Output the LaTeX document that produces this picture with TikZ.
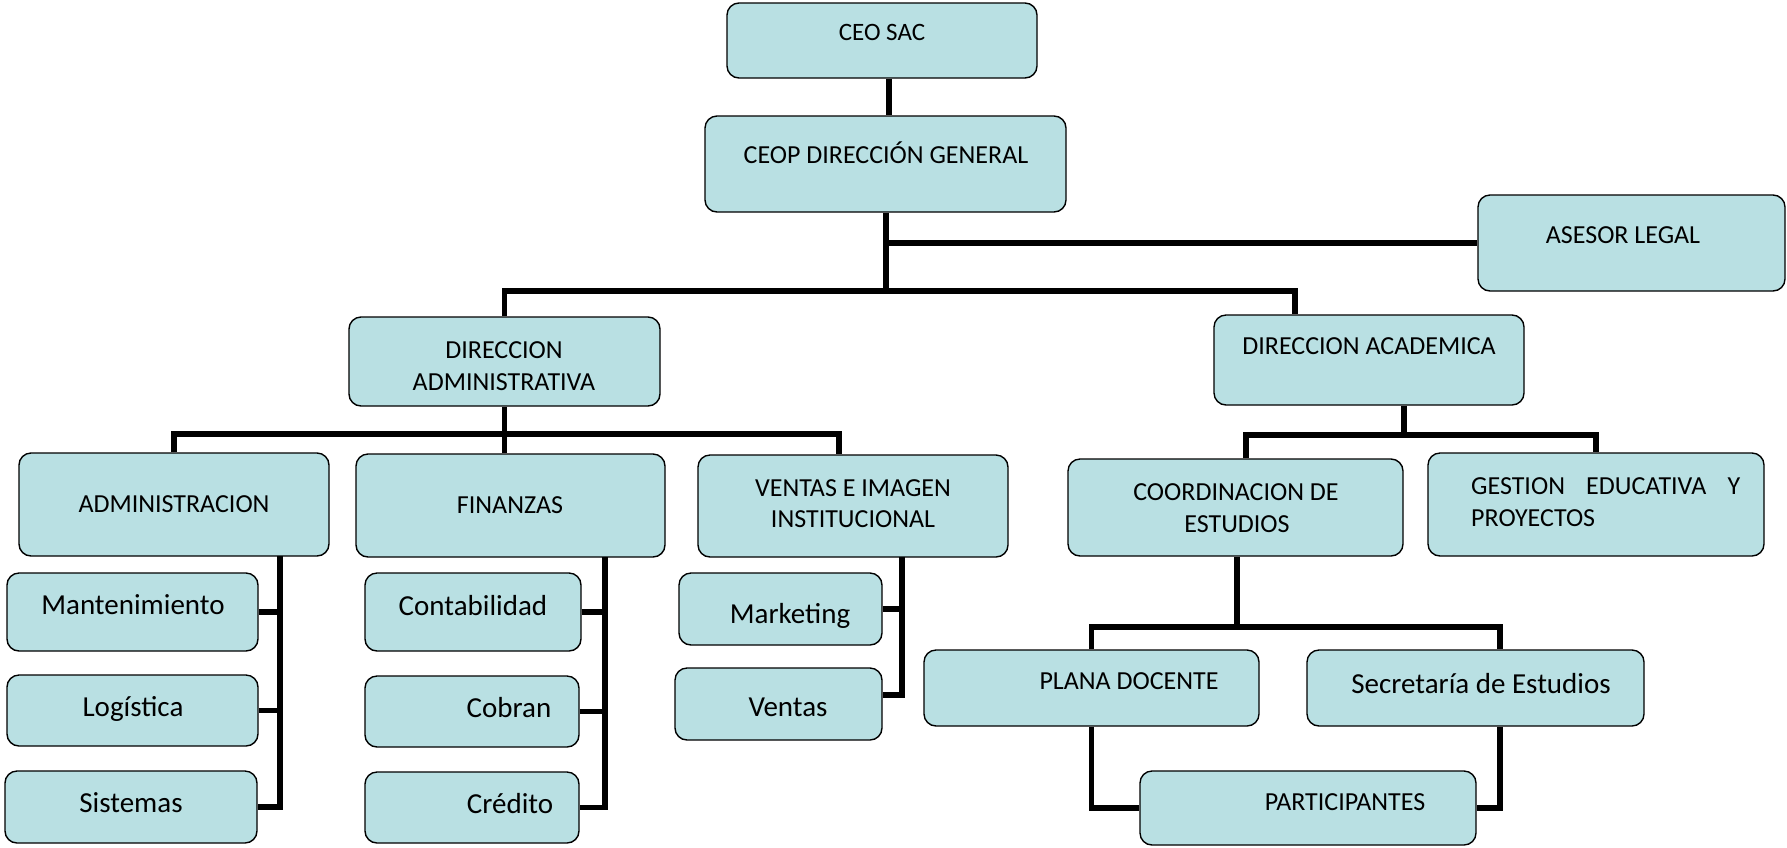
\documentclass[tikz,border=0pt]{standalone}
\usepackage{fontspec}
\setmainfont{Carlito}
\definecolor{boxfill}{RGB}{185,224,227}
\begin{document}
\begin{tikzpicture}[x=1pt,y=-1pt,
  unit/.style={draw=black,line width=1.4pt,fill=boxfill,rounded corners=12pt,inner sep=0pt},
  caps/.style={anchor=base,inner sep=0pt,font=\fontsize{26}{31}\selectfont},
  words/.style={anchor=base,inner sep=0pt,font=\fontsize{29}{35}\selectfont},
  link/.style={line width=5.7pt,line join=miter}]
\useasboundingbox (0,0) rectangle (1787,847);
% box from its corners: name, x1, y1, x2, y2
\newcommand\orgbox[5]{\node[unit,minimum width={(#4-#2)*1pt},minimum height={(#5-#3)*1pt}] (#1) at ({(#2+#4)/2},{(#3+#5)/2}) {};}

% ---- boxes ----
\orgbox{ceo}{727}{3}{1037}{78}
\orgbox{ceop}{705}{116}{1066}{212}
\orgbox{asesor}{1478}{195}{1785}{291}
\orgbox{dadm}{349}{317}{660}{406}
\orgbox{dacad}{1214}{315}{1524}{405}
\orgbox{admin}{19}{453}{329}{556}
\orgbox{finan}{356}{454}{665}{557}
\orgbox{ventas}{698}{455}{1008}{557}
\orgbox{mant}{7}{573}{258}{651}
\orgbox{logis}{7}{675}{258}{746}
\orgbox{sist}{5}{771}{257}{843}
\orgbox{conta}{365}{573}{581}{651}
\orgbox{cobran}{365}{676}{579}{747}
\orgbox{credito}{365}{772}{579}{843}
\orgbox{mkt}{679}{573}{882}{645}
\orgbox{vtas}{675}{668}{882}{740}
\orgbox{coord}{1068}{459}{1403}{556}
\orgbox{gestion}{1428}{453}{1764}{556}
\orgbox{plana}{924}{650}{1259}{726}
\orgbox{secre}{1307}{650}{1644}{726}
\orgbox{partic}{1140}{771}{1476}{845}

% ---- labels ----
\node[caps,font=\fontsize{25}{30}\selectfont] (ceo-t) at (882,40) {CEO SAC};
\node[caps] (ceop-t) at (886,163) {CEOP DIRECCIÓN GENERAL};
\node[caps] (asesor-t) at (1623,243) {ASESOR LEGAL};
\node[caps] (dadm-t1) at (504,358) {DIRECCION};
\node[caps] (dadm-t2) at (504,390) {ADMINISTRATIVA};
\node[caps] (dacad-t) at (1369,354) {DIRECCION ACADEMICA};
\node[caps] (admin-t) at (174,512) {ADMINISTRACION};
\node[caps] (finan-t) at (510,513) {FINANZAS};
\node[caps] (ventas-t1) at (853,496) {VENTAS E IMAGEN};
\node[caps] (ventas-t2) at (853,527) {INSTITUCIONAL};
\node[words] (mant-t) at (133,614) {Mantenimiento};
\node[words] (logis-t) at (133,716) {Logística};
\node[words] (sist-t) at (131,812) {Sistemas};
\node[words] (conta-t) at (473,615) {Contabilidad};
\node[words] (cobran-t) at (509,717) {Cobran};
\node[words] (credito-t) at (510,813) {Crédito};
\node[words] (mkt-t) at (790,623) {Marketing};
\node[words] (vtas-t) at (788,716) {Ventas};
\node[caps] (coord-t1) at (1236,500) {COORDINACION DE};
\node[caps] (coord-t2) at (1237,532) {ESTUDIOS};
\node[caps,anchor=base west] (gestion-t1) at (1471,494) {\makebox[269pt][s]{GESTION EDUCATIVA Y}};
\node[caps,anchor=base west] (gestion-t2) at (1471,526) {PROYECTOS};
\node[caps] (plana-t) at (1129,689) {PLANA DOCENTE};
\node[words] (secre-t) at (1481,693) {Secretaría de Estudios};
\node[caps] (partic-t) at (1345,810) {PARTICIPANTES};

% ---- connectors ----
\coordinate (hub) at (886,291);
\coordinate (legal) at (886,243);
\draw[link] ([xshift=7pt]ceo.south) -- ([xshift=3.5pt]ceop.north);
\draw[link] ([xshift=0.5pt]ceop.south) -- (hub);
\draw[link] (legal) -- (legal -| asesor.west);
\draw[link] (dadm.north) |- (hub) -| ([xshift=-74pt]dacad.north);

% administrative branch
\coordinate (abar) at (504.5,434);
\draw[link] (dadm.south) -- (dadm.south |- finan.north);
\draw[link] (admin.north) |- (abar) -| ([xshift=-14pt]ventas.north);

\coordinate (aspine) at (280,556);
\draw[link] (aspine) |- (sist.east);
\draw[link] (mant.east) -- (mant.east -| aspine);
\draw[link] (logis.east) -- (logis.east -| aspine);

\coordinate (fspine) at (605,557);
\draw[link] (fspine) |- (credito.east);
\draw[link] (conta.east) -- (conta.east -| fspine);
\draw[link] (cobran.east) -- (cobran.east -| fspine);

\coordinate (vspine) at (902,557);
\draw[link] (vspine) |- ([yshift=9pt]vtas.east);
\draw[link] (mkt.east) -- (mkt.east -| vspine);

% academic branch
\coordinate (cbar) at (1404,435);
\draw[link] ([xshift=35pt]dacad.south) -- (cbar);
\draw[link] ([xshift=10.5pt]coord.north) |- (cbar) -| (gestion.north);

\coordinate (pbar) at (1237,627);
\draw[link] ([xshift=1.5pt]coord.south) -- (pbar);
\draw[link] (plana.north) |- (pbar) -| ([xshift=24.5pt]secre.north);
\draw[link] (plana.south) |- (partic.west);
\draw[link] ([xshift=24.5pt]secre.south) |- (partic.east);
\end{tikzpicture}
\end{document}
